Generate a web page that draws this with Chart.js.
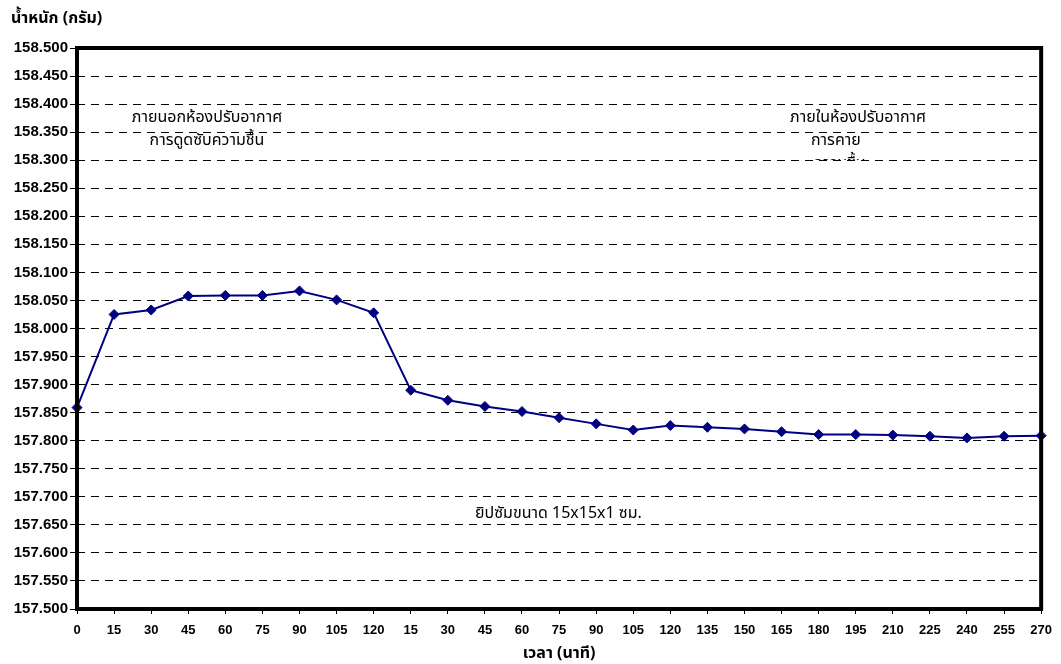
<!DOCTYPE html>
<html>
<head>
<meta charset="utf-8">
<script src="https://cdn.jsdelivr.net/npm/chart.js@4.4.1/dist/chart.umd.min.js"></script>
<style>
  html, body { margin: 0; padding: 0; background: #ffffff; }
  #wrap { width: 1061px; height: 664px; position: relative; }
</style>
</head>
<body>
<div id="wrap"><canvas id="c" width="1061" height="664"></canvas></div>
<script>
// Time in minutes: outside the air-conditioned room (0-120), then inside it (15-270)
const timeLabels = ['0','15','30','45','60','75','90','105','120',
  '15','30','45','60','75','90','105','120','135','150','165','180','195','210','225','240','255','270'];

// Weight of the gypsum sample in grams
const weightGrams = [157.859, 158.025, 158.033, 158.058, 158.059, 158.059, 158.067, 158.051, 158.028,
  157.890, 157.872, 157.861, 157.852, 157.841, 157.830, 157.819, 157.827, 157.824, 157.821,
  157.816, 157.811, 157.811, 157.810, 157.808, 157.805, 157.808, 157.809];

const yMin = 157.5;
const yMax = 158.5;
const yStep = 0.05;

const yTitle = 'น้ำหนัก (กรัม)';
const xTitle = 'เวลา (นาที)';
const noteOutside = ['ภายนอกห้องปรับอากาศ', 'การดูดซับความชื้น'];
const noteInside = ['ภายในห้องปรับอากาศ', 'การคาย', 'ความชื้น'];
const noteSample = 'ยิปซัมขนาด 15x15x1 ซม.';

const latin = "'Liberation Sans', Arial, sans-serif";
const thai = "Tahoma, 'Noto Sans Thai', 'Liberation Sans', sans-serif";

// Thick frame around the plot area plus free-floating notes
const framePlugin = {
  id: 'frameAndNotes',
  afterDatasetsDraw(chart) {
    const { ctx, chartArea: a } = chart;
    ctx.save();
    ctx.strokeStyle = '#000';
    ctx.lineWidth = 4;
    ctx.strokeRect(a.left, a.top, a.right - a.left, a.bottom - a.top);
    ctx.restore();
  },
  afterDraw(chart) {
    const { ctx } = chart;
    ctx.save();
    ctx.fillStyle = '#000';
    ctx.textBaseline = 'middle';

    ctx.font = "bold 16px " + thai;
    ctx.textAlign = 'left';
    ctx.fillText(yTitle, 11, 20);

    ctx.font = "16px " + thai;
    ctx.textAlign = 'center';
    ctx.fillText(noteOutside[0], 207, 119);
    ctx.fillText(noteOutside[1], 207, 142);

    ctx.textAlign = 'left';
    ctx.fillText(noteInside[0], 790, 119);
    ctx.fillText(noteInside[1], 811, 142);
    // third line of the inside note sits partly behind the text box edge
    ctx.save();
    ctx.beginPath();
    ctx.rect(780, 150, 200, 10);
    ctx.clip();
    ctx.fillText(noteInside[2], 813, 165);
    ctx.restore();

    ctx.textAlign = 'left';
    ctx.fillText(noteSample, 475, 515);
    ctx.restore();
  }
};

new Chart(document.getElementById('c'), {
  type: 'line',
  data: {
    labels: timeLabels,
    datasets: [{
      data: weightGrams,
      borderColor: '#000080',
      backgroundColor: '#000080',
      borderWidth: 2,
      pointStyle: 'rectRot',
      pointRadius: 5,
      pointBorderWidth: 1,
      pointBackgroundColor: '#000080',
      pointBorderColor: '#000080',
      tension: 0,
      clip: false
    }]
  },
  options: {
    responsive: false,
    animation: false,
    devicePixelRatio: 1,
    layout: { padding: { top: 48, right: 13, left: 0, bottom: 0 } },
    plugins: { legend: { display: false }, tooltip: { enabled: false } },
    scales: {
      x: {
        type: 'category',
        offset: false,
        grid: {
          drawOnChartArea: false,
          drawTicks: true,
          tickLength: 5,
          tickColor: '#000',
          tickWidth: 1
        },
        border: { display: false },
        ticks: {
          color: '#000',
          font: { family: latin, size: 13, weight: 'bold' },
          maxRotation: 0,
          autoSkip: false,
          padding: 9
        },
        title: {
          display: true,
          text: xTitle,
          color: '#000',
          font: { family: thai, size: 16, weight: 'bold' },
          padding: { top: 4, bottom: 0 }
        },
        afterFit(scale) { scale.height = 55; }
      },
      y: {
        min: yMin,
        max: yMax,
        grid: {
          color: '#000',
          lineWidth: 1,
          drawTicks: true,
          tickLength: 7,
          tickColor: '#000',
          tickBorderDash: [],
          tickWidth: 1
        },
        border: { display: false, dash: [8, 6] },
        ticks: {
          stepSize: yStep,
          color: '#000',
          font: { family: latin, size: 15, weight: 'bold' },
          padding: 2,
          callback: v => Number(v).toFixed(3)
        },
        afterFit(scale) { scale.width = 77; }
      }
    }
  },
  plugins: [framePlugin]
});
</script>
</body>
</html>
